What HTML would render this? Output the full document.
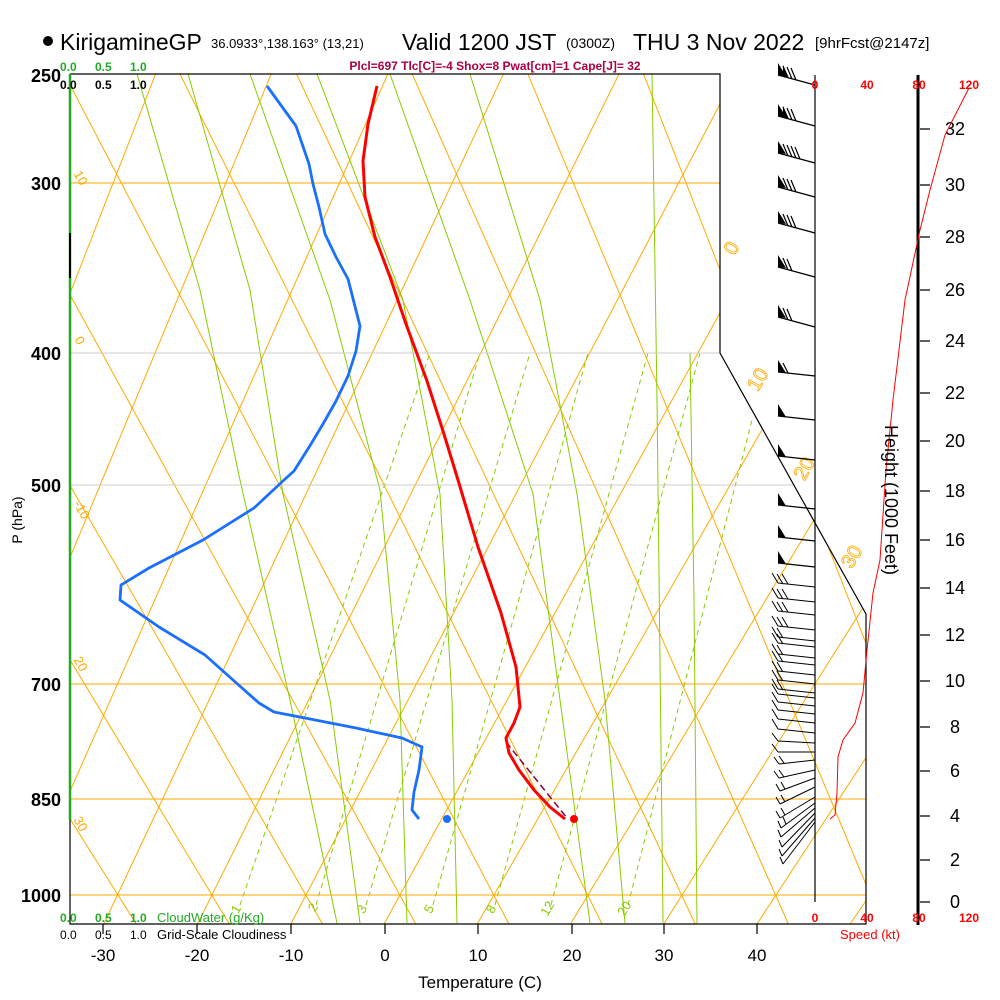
<!DOCTYPE html>
<html><head><meta charset="utf-8"><style>
html,body{margin:0;padding:0;background:#fff;}
svg{display:block;font-family:"Liberation Sans",Arial,sans-serif;}
</style></head><body>
<svg width="1000" height="1000" viewBox="0 0 1000 1000" xmlns="http://www.w3.org/2000/svg">
<defs>
<clipPath id="pc"><polygon points="70,74 720,74 720,353 866,614 866,924 70,924"/></clipPath>
</defs>
<rect width="1000" height="1000" fill="#fff"/>
<g clip-path="url(#pc)" stroke="#ffaa00" stroke-width="1" fill="none">
<path d="M45 60L-271 930M161 60L-178 930M277 60L-85 930M394 60L8.5 930M510 60L101 930M626 60L194.6 930M743 60L287.7 930M859 60L380.7 930M975 60L473.8 930M1091 60L566.9 930M1208 60L660 930M1324 60L753 930M1440 60L846 930"/>
<path d="M-408 60L140 930M-292 60L233 930M-175 60L326 930M-59 60L419 930M57 60L512 930M173 60L605 930M290 60L698 930M406 60L791 930M522 60L885 930M638 60L978 930M755 60L1071 930M871 60L1164 930"/>
</g>
<g clip-path="url(#pc)" stroke="#88cc00" stroke-width="1" fill="none">
<polyline points="137,74 200,290 240,480 290,700 337,923"/>
<polyline points="188,74 250,290 283,494 330,700 360,923"/>
<polyline points="250,74 330,300 380,490 400,700 407,923"/>
<polyline points="317,74 403,300 440,494 452,700 457,923"/>
<polyline points="390,74 470,300 533,494 560,700 590,923"/>
<polyline points="470,74 540,300 577,494 605,700 625,923"/>
<polyline points="652,74 657,400 663,923"/>
<polyline points="690,353 694,600 697,923"/>
</g>
<g stroke="#88cc00" stroke-width="1" stroke-dasharray="5,4" fill="none">
<line x1="240" y1="905" x2="430" y2="353"/>
<line x1="316" y1="905" x2="480" y2="353"/>
<line x1="366" y1="905" x2="530" y2="353"/>
<line x1="433" y1="905" x2="588" y2="353"/>
<line x1="495" y1="905" x2="648" y2="353"/>
<line x1="551" y1="905" x2="700" y2="353"/>
<line x1="628" y1="905" x2="752" y2="420"/>
</g>
<g fill="#88cc00" font-size="13">
<text x="232" y="912" transform="rotate(-60 237 908)">1</text>
<text x="310" y="912" transform="rotate(-60 313 908)">2</text>
<text x="358" y="912" transform="rotate(-60 363 908)">3</text>
<text x="425" y="912" transform="rotate(-60 430 908)">5</text>
<text x="487" y="912" transform="rotate(-60 492 908)">8</text>
<text x="540" y="912" transform="rotate(-60 548 908)">12</text>
<text x="617" y="912" transform="rotate(-60 625 908)">20</text>
</g>
<g stroke-width="1">
<line x1="70" y1="183" x2="720" y2="183" stroke="#ffaa00"/>
<line x1="70" y1="353" x2="720" y2="353" stroke="#cccccc"/>
<line x1="70" y1="485" x2="794" y2="485" stroke="#cccccc"/>
<line x1="70" y1="684" x2="866" y2="684" stroke="#ffaa00"/>
<line x1="70" y1="799" x2="866" y2="799" stroke="#ffaa00"/>
<line x1="70" y1="895" x2="866" y2="895" stroke="#ffaa00"/>
</g>
<g fill="#ffaa00" font-size="13">
<text x="72" y="180" transform="rotate(60 78 178)">10</text>
<text x="74" y="344" transform="rotate(60 78 342)">0</text>
<text x="72" y="510" transform="rotate(60 78 508)">-10</text>
<text x="72" y="666" transform="rotate(60 78 664)">20</text>
<text x="72" y="826" transform="rotate(60 78 824)">30</text>
</g>
<g fill="none" stroke="#ffaa00" font-size="20" stroke-width="0.8">
<text x="724" y="252" transform="rotate(-60 733 245)">0</text>
<text x="745" y="386" transform="rotate(-60 757 378)">10</text>
<text x="792" y="476" transform="rotate(-60 803 468)">20</text>
<text x="840" y="565" transform="rotate(-60 850 557)">30</text>
</g>
<polyline points="70,74 720,74 720,353 866,614 866,924 70,924 70,74" stroke="#000" fill="none" stroke-width="1.2"/>
<line x1="70" y1="74" x2="70" y2="820" stroke="#22aa22" stroke-width="2.5"/>
<line x1="70" y1="233" x2="70" y2="278" stroke="#000" stroke-width="2"/>
<g stroke="#000" stroke-width="1.2">
<line x1="103" y1="924" x2="103" y2="934"/><line x1="197" y1="924" x2="197" y2="934"/>
<line x1="291" y1="924" x2="291" y2="934"/><line x1="385" y1="924" x2="385" y2="934"/>
<line x1="478" y1="924" x2="478" y2="934"/><line x1="572" y1="924" x2="572" y2="934"/>
<line x1="664" y1="924" x2="664" y2="934"/><line x1="757" y1="924" x2="757" y2="934"/>
</g>
<polyline fill="none" stroke="#1a6fff" stroke-width="2.8" stroke-linejoin="round" points="267,86 296,126 309,164 313,184 319,207 325,234 336,257 348,279 360,326 356,351 348,376 336,401 323,424 311,444 294,471 284,480 254,508 203,540 149,568 121,585 120,600 159,627 205,655 233,680 259,703 274,712 305,718 356,728 402,738 422,747 419,770 414,792 412,810 419,819"/>
<circle cx="447" cy="819" r="4" fill="#1a6fff"/>
<polyline fill="none" stroke="#880044" stroke-width="1.5" stroke-dasharray="7,4" points="506,742 567,818"/>
<polyline fill="none" stroke="#ff0000" stroke-width="3" stroke-linejoin="round" points="377,86 368,124 363,161 365,197 375,237 390,277 406,324 427,381 443,431 458,480 478,547 501,613 516,667 520,707 514,723 506,738 509,753 519,770 534,790 550,807 565,819"/>
<circle cx="574" cy="819" r="4" fill="#ff0000"/>
<line x1="815" y1="75" x2="815" y2="902" stroke="#000" stroke-width="1.2"/>
<line x1="918" y1="75" x2="918" y2="925" stroke="#000" stroke-width="3"/>
<path stroke="#000" stroke-width="1.2" d="M920 902h10M920 860h10M920 816h10M920 771h10M920 727h10M920 681h10M920 635h10M920 588h10M920 540h10M920 491h10M920 441h10M920 393h10M920 341h10M920 290h10M920 237h10M920 185h10M920 129h10"/>
<g font-size="18" fill="#000" text-anchor="middle">
<text x="955" y="908">0</text><text x="955" y="866">2</text><text x="955" y="822">4</text><text x="955" y="777">6</text>
<text x="955" y="733">8</text><text x="955" y="687">10</text><text x="955" y="641">12</text><text x="955" y="594">14</text>
<text x="955" y="546">16</text><text x="955" y="497">18</text><text x="955" y="447">20</text><text x="955" y="399">22</text>
<text x="955" y="347">24</text><text x="955" y="296">26</text><text x="955" y="243">28</text><text x="955" y="191">30</text><text x="955" y="135">32</text>
</g>
<polyline fill="none" stroke="#ff0000" stroke-width="1" points="969,88 945,135 930,190 920,230 905,300 893,400 886,470 880,560 873,593 867,650 863,693 855,723 843,740 838,757 837,793 835,815 830,819"/>
<g stroke="#000" stroke-width="1.2" fill="none">
<path d="M815 85L778 75M788 78l-5 -12M792 79l-5 -12M796 80l-5 -12
M815 126L778 116M788 119l-5 -12M792 120l-5 -12M796 121l-5 -12
M815 163L778 153M788 156l-5 -12M792 157l-5 -12M796 158l-5 -12M800 159l-5 -12
M815 197L778 187M788 190l-5 -12M792 191l-5 -12M796 192l-5 -12
M815 233L778 223M788 226l-5 -12M792 227l-5 -12M796 228l-5 -12
M815 277L778 267M788 270l-5 -12M792 271l-5 -12
M815 327L778 317M788 320l-5 -12M792 321l-5 -12
M815 376L778 372M788 373l-5 -10
M815 420L778 416M815 460L778 456M815 509L778 505M815 541L778 537M815 567L778 563"/>
</g>
<g fill="#000">
<polygon points="778,75 786,76 778,63"/><polygon points="783,77 789,78 783,65"/>
<polygon points="778,116 786,117 778,104"/><polygon points="783,118 789,119 783,106"/>
<polygon points="778,153 786,154 778,141"/>
<polygon points="778,187 786,188 778,175"/>
<polygon points="778,223 786,224 778,211"/>
<polygon points="778,267 786,268 778,255"/>
<polygon points="778,317 786,318 778,305"/>
<polygon points="778,372 786,373 778,360"/>
<polygon points="778,416 786,417 778,404"/>
<polygon points="778,456 786,457 778,444"/>
<polygon points="778,505 786,506 778,493"/>
<polygon points="778,537 786,538 778,525"/>
<polygon points="778,563 786,564 778,551"/>
</g>
<g stroke="#000" stroke-width="1" fill="none">
<path d="M815 587L778 583M778 583l-6 -10M783 584l-6 -10M788 584l-6 -10
M815 602L778 598M778 598l-6 -10M783 599l-6 -10M788 599l-6 -10
M815 615L778 611M778 611l-6 -10M783 612l-6 -10M788 612l-6 -10
M815 630L778 626M778 626l-6 -10M783 627l-6 -10M788 627l-6 -10
M815 641L778 637M778 637l-6 -10M783 638l-6 -10
M815 647L778 643M778 643l-6 -10M783 644l-6 -10
M815 658L778 654M778 654l-6 -10M783 655l-6 -10
M815 665L778 661M778 661l-6 -10M783 662l-6 -10
M815 675L778 671M778 671l-6 -10M783 672l-6 -10
M815 684L778 680M778 680l-6 -10M783 681l-6 -10
M815 693L778 689M778 689l-6 -10M783 690l-6 -10
M815 698L778 694M778 694l-6 -10
M815 706L778 702M778 702l-6 -10
M815 714L778 710M778 710l-6 -10
M815 723L778 719M778 719l-6 -10
M815 733L778 729M778 729l-6 -10
M815 743L778 741M778 741l-6 -8
M815 752L778 752M778 752l-6 -8
M815 760L779 764M779 764l-5 -7M784 763l-5 -7
M815 770L779 778M779 778l-5 -7M784 777l-5 -7
M815 778L780 791M780 791l-4 -7M785 789l-4 -7
M815 787L780 804M780 804l-4 -7M785 802l-4 -7
M815 797L780 818M780 818l-4 -7M785 815l-4 -7
M815 803L781 828M781 828l-3 -7M786 824l-3 -7
M815 808L781 837M781 837l-3 -7
M815 813L782 847M782 847l-3 -7
M815 818L782 856M782 856l-3 -7
M815 822L783 864M783 864l-3 -7"/>
</g>
<g fill="#ff0000" font-size="12" font-weight="bold" text-anchor="middle">
<text x="815" y="89">0</text><text x="867" y="89">40</text><text x="919" y="89">80</text><text x="969" y="89">120</text>
<text x="815" y="922">0</text><text x="867" y="922">40</text><text x="919" y="922">80</text><text x="969" y="922">120</text>
<text x="870" y="939" font-weight="normal" font-size="13">Speed (kt)</text>
</g>
<text x="891" y="500" font-size="18" text-anchor="middle" transform="rotate(90 891 500)" dy="6">Height (1000 Feet)</text>
<g font-size="18" font-weight="bold" text-anchor="end">
<text x="61" y="82">250</text><text x="61" y="190">300</text><text x="61" y="360">400</text>
<text x="61" y="492">500</text><text x="61" y="691">700</text><text x="61" y="806">850</text><text x="61" y="902">1000</text>
</g>
<text x="22" y="520" font-size="14" text-anchor="middle" transform="rotate(-90 22 520)">P (hPa)</text>
<g font-size="17" text-anchor="middle">
<text x="103" y="961">-30</text><text x="197" y="961">-20</text><text x="291" y="961">-10</text><text x="385" y="961">0</text>
<text x="478" y="961">10</text><text x="572" y="961">20</text><text x="664" y="961">30</text><text x="757" y="961">40</text>
<text x="480" y="988">Temperature (C)</text>
</g>
<g font-size="12" font-weight="bold">
<text x="60" y="71" fill="#22aa22">0.0</text><text x="95" y="71" fill="#22aa22">0.5</text><text x="130" y="71" fill="#22aa22">1.0</text>
<text x="60" y="89">0.0</text><text x="95" y="89">0.5</text><text x="130" y="89">1.0</text>
<text x="60" y="922" fill="#22aa22">0.0</text><text x="95" y="922" fill="#22aa22">0.5</text><text x="130" y="922" fill="#22aa22">1.0</text>
<text x="157" y="922" fill="#22aa22" font-weight="normal" font-size="13">CloudWater (g/Kg)</text>
<text x="60" y="939" font-weight="normal">0.0</text><text x="95" y="939" font-weight="normal">0.5</text><text x="130" y="939" font-weight="normal">1.0</text>
<text x="157" y="939" font-weight="normal" font-size="13">Grid-Scale Cloudiness</text>
</g>
<circle cx="48" cy="41" r="5" fill="#000"/>
<text x="60" y="50" font-size="23">KirigamineGP</text>
<text x="211" y="48" font-size="13">36.0933°,138.163° (13,21)</text>
<text x="402" y="50" font-size="23">Valid 1200 JST</text>
<text x="566" y="48" font-size="14">(0300Z)</text>
<text x="633" y="50" font-size="23">THU 3 Nov 2022</text>
<text x="815" y="48" font-size="15">[9hrFcst@2147z]</text>
<text x="495" y="70" font-size="12" font-weight="bold" fill="#aa0044" text-anchor="middle">Plcl=697 Tlc[C]=-4 Shox=8 Pwat[cm]=1 Cape[J]= 32</text>
</svg>
</body></html>
